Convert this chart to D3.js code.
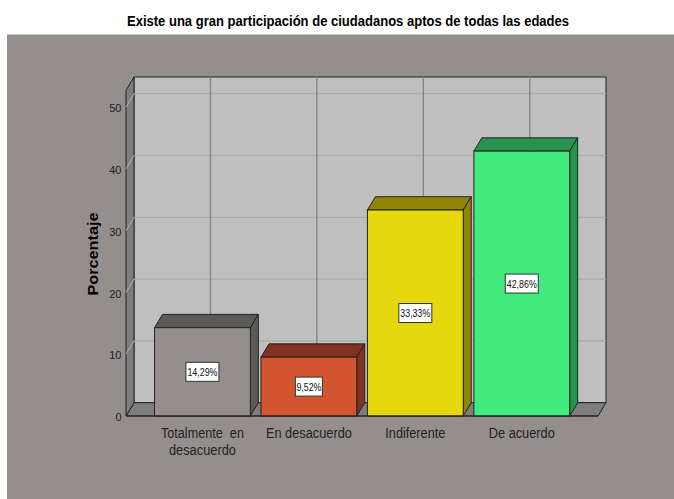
<!DOCTYPE html>
<html><head><meta charset="utf-8">
<script src="https://cdn.jsdelivr.net/npm/d3@7"></script>
<style>
html,body{margin:0;padding:0;background:#fff}
svg{display:block}
text{font-family:"Liberation Sans",Arial,sans-serif}
</style></head><body>
<div id="chart"></div>
<script>
const titleText = "Existe una gran participación de ciudadanos aptos de todas las edades";
const yTitle = "Porcentaje";
const categories = ["Totalmente  en|desacuerdo","En desacuerdo","Indiferente","De acuerdo"];
const values = [14.29,9.52,33.33,42.86];
const valueLabels = ["14,29%","9,52%","33,33%","42,86%"];
const frontColors = ["#948f8d","#d25530","#e6d80e","#40ea7c"];
const topColors = ["#5c5a58","#823220","#8f8607","#27934f"];
const yTicks = [0,10,20,30,40,50];
const yMax = 52.7;

const W=674,H=499, dx=8, dy=13.3;
const svg=d3.select("#chart").append("svg").attr("width",W).attr("height",H);
svg.append("rect").attr("x",7).attr("y",35).attr("width",W-7).attr("height",H-35).attr("fill","#948f8d");
svg.append("line").attr("x1",7).attr("x2",W).attr("y1",34.5).attr("y2",34.5).attr("stroke","#c9c6c5");

const y=d3.scaleLinear().domain([0,50]).range([416,107]);
const x=d3.scaleBand().domain(categories).range([149.2,575]).paddingInner(0.1).paddingOuter(0.05);
const leftX=126,rightX=598,bottomY=y(0),topY=y(yMax);
const poly=(pts,fill,stroke="#222",sw=1)=>svg.append("polygon").attr("points",pts.map(p=>p.join(",")).join(" ")).attr("fill",fill).attr("stroke",stroke).attr("stroke-width",sw).attr("stroke-linejoin","round");

// back wall
poly([[leftX+dx,topY-dy],[rightX+dx,topY-dy],[rightX+dx,bottomY-dy],[leftX+dx,bottomY-dy]],"#c0c0c0");
// floor
poly([[leftX,bottomY],[rightX,bottomY],[rightX+dx,bottomY-dy],[leftX+dx,bottomY-dy]],"#7d7d7d");
// left wall
poly([[leftX,topY],[leftX+dx,topY-dy],[leftX+dx,bottomY-dy],[leftX,bottomY]],"#7d7d7d");

// gridlines
yTicks.slice(1).forEach(t=>{
  svg.append("line").attr("x1",leftX+dx).attr("x2",rightX+dx).attr("y1",y(t)-dy).attr("y2",y(t)-dy).attr("stroke","#acabab").attr("stroke-width",1.2);
  svg.append("line").attr("x1",leftX).attr("x2",leftX+dx).attr("y1",y(t)).attr("y2",y(t)-dy).attr("stroke","#b5b5b5").attr("stroke-width",1);
});
categories.forEach(c=>{
  const cx=x(c)+x.bandwidth()/2+dx;
  svg.append("line").attr("x1",cx).attr("x2",cx).attr("y1",topY-dy).attr("y2",bottomY-dy).attr("stroke","#858585").attr("stroke-width",1.4);
});

// bars
categories.forEach((c,i)=>{
  const x0=x(c),x1=x0+x.bandwidth(),yt=y(values[i]),yb=bottomY;
  poly([[x0,yt],[x0+dx,yt-dy],[x1+dx,yt-dy],[x1,yt]],topColors[i]);
  poly([[x1,yt],[x1+dx,yt-dy],[x1+dx,yb-dy],[x1,yb]],topColors[i]);
  svg.append("rect").attr("x",x0).attr("y",yt).attr("width",x.bandwidth()).attr("height",yb-yt).attr("fill",frontColors[i]).attr("stroke","#222");
  const cx=(x0+x1)/2, cy=(yt+yb)/2;
  const bw=valueLabels[i].length>5?33:27;
  svg.append("rect").attr("x",cx-bw/2).attr("y",cy-9.5).attr("width",bw).attr("height",19).attr("fill","#fff").attr("stroke","#333").attr("stroke-width",1);
  svg.append("text").attr("x",cx).attr("y",cy+4).attr("text-anchor","middle").attr("font-size",11)
    .attr("textLength",valueLabels[i].length>5?30:25).attr("lengthAdjust","spacingAndGlyphs").attr("fill","#111").text(valueLabels[i]);
});

// front baseline
svg.append("line").attr("x1",leftX).attr("x2",rightX).attr("y1",bottomY).attr("y2",bottomY).attr("stroke","#222");

// y axis
const gy=svg.append("g").attr("transform","translate(123.5,0)").call(d3.axisLeft(y).tickValues(yTicks).tickSize(0).tickPadding(2));
gy.select(".domain").remove();
gy.selectAll("text").attr("fill","#222").style("font-size","11px").style("font-family",'"Liberation Sans Narrow","Liberation Sans",sans-serif').attr("dy","0.42em");

// x labels
const xLabelWidths = {"Totalmente  en":83,"desacuerdo":67,"En desacuerdo":86,"Indiferente":60,"De acuerdo":66};
categories.forEach(c=>{
  c.split("|").forEach((l,j)=>{
    svg.append("text").attr("x",x(c)+x.bandwidth()/2).attr("y",438+j*16.5).attr("text-anchor","middle").attr("font-size",14)
      .attr("textLength",xLabelWidths[l]).attr("lengthAdjust","spacingAndGlyphs")
      .attr("fill","#222").style("white-space","pre").text(l);
  });
});

// titles
svg.append("text").attr("x",348).attr("y",26).attr("text-anchor","middle").attr("font-size",14)
  .attr("textLength",442).attr("lengthAdjust","spacingAndGlyphs").attr("font-weight","bold").attr("fill","#000").text(titleText);
svg.append("text").attr("transform","translate(98,254) rotate(-90)").attr("text-anchor","middle").attr("font-size",15)
  .attr("textLength",83).attr("lengthAdjust","spacingAndGlyphs").attr("font-weight","bold").attr("fill","#000").text(yTitle);
</script></body></html>
